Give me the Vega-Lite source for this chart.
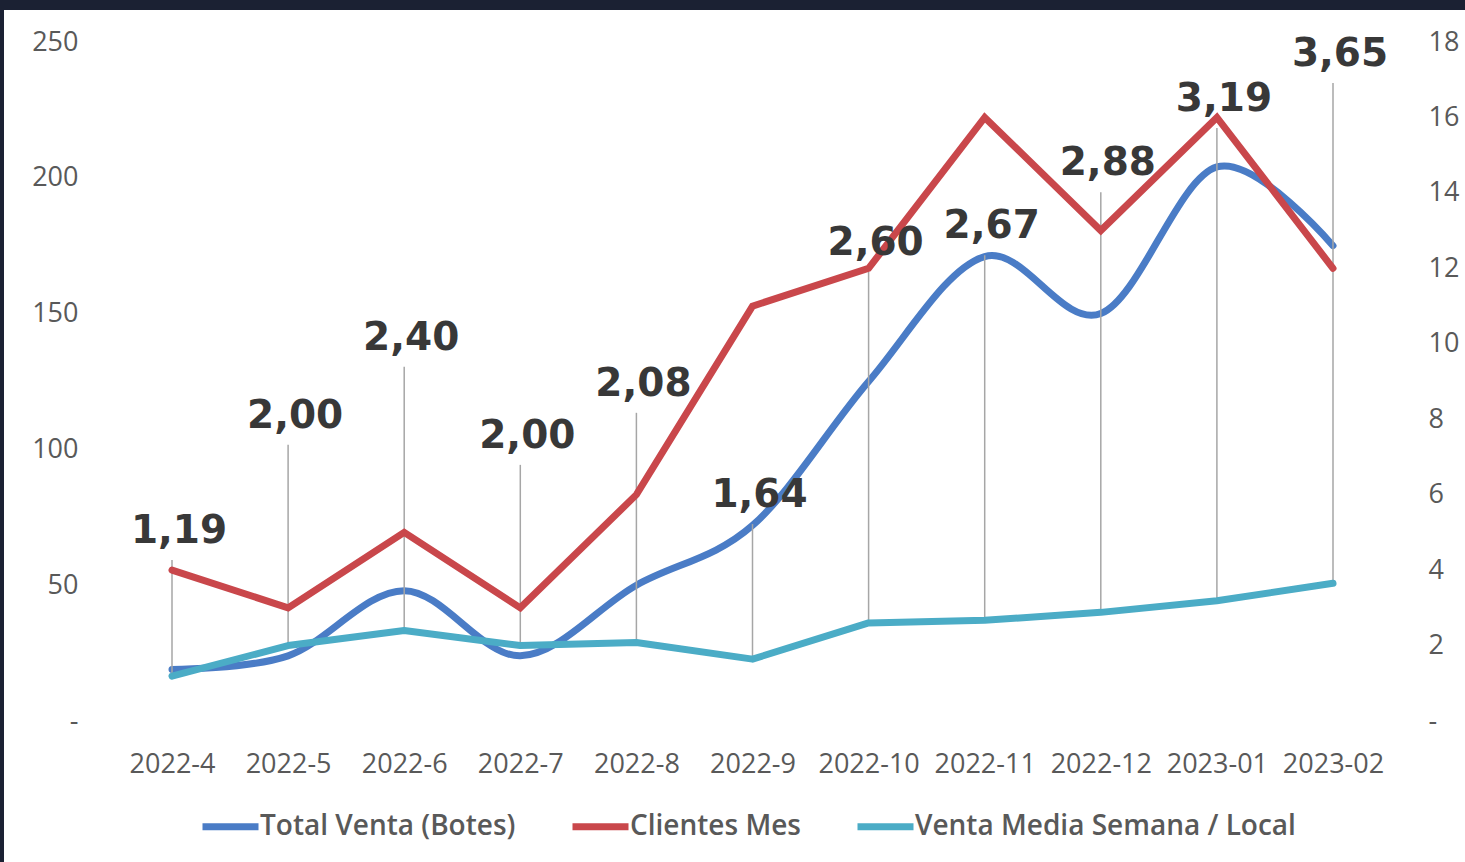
{
  "$schema": "https://vega.github.io/schema/vega-lite/v6.json",
  "width": 1461,
  "height": 852,
  "autosize": "none",
  "padding": {"left": 4, "top": 10, "right": 0, "bottom": 0},
  "background": "#1b2133",
  "config": {
    "view": {"fill": "#ffffff", "stroke": null},
    "locale": {"number": {"decimal": ",", "thousands": ".", "grouping": [3], "currency": ["", " €"]}},
    "axis": {
      "labelFont": "Open Sans",
      "labelFontSize": 27,
      "labelColor": "#595959",
      "domain": false,
      "ticks": false,
      "tickSize": 0,
      "grid": false,
      "title": null
    }
  },
  "data": {
    "values": [
      {"mes": "2022-4", "total_venta": 19, "clientes": 4, "venta_media": 1.19, "altura_etiqueta": 4.27},
      {"mes": "2022-5", "total_venta": 24, "clientes": 3, "venta_media": 2.0, "altura_etiqueta": 7.32},
      {"mes": "2022-6", "total_venta": 48, "clientes": 5, "venta_media": 2.4, "altura_etiqueta": 9.39},
      {"mes": "2022-7", "total_venta": 24, "clientes": 3, "venta_media": 2.0, "altura_etiqueta": 6.79},
      {"mes": "2022-8", "total_venta": 50, "clientes": 6, "venta_media": 2.08, "altura_etiqueta": 8.17},
      {"mes": "2022-9", "total_venta": 72, "clientes": 11, "venta_media": 1.64, "altura_etiqueta": 5.22},
      {"mes": "2022-10", "total_venta": 125, "clientes": 12, "venta_media": 2.6, "altura_etiqueta": 11.9},
      {"mes": "2022-11", "total_venta": 171, "clientes": 16, "venta_media": 2.67, "altura_etiqueta": 12.35},
      {"mes": "2022-12", "total_venta": 150, "clientes": 13, "venta_media": 2.88, "altura_etiqueta": 14.02},
      {"mes": "2023-01", "total_venta": 204, "clientes": 16, "venta_media": 3.19, "altura_etiqueta": 15.72},
      {"mes": "2023-02", "total_venta": 175, "clientes": 12, "venta_media": 3.65, "altura_etiqueta": 16.91}
    ]
  },
  "layer": [
    {
      "mark": {"type": "line", "interpolate": "cardinal", "tension": 0, "strokeWidth": 7, "strokeCap": "round", "strokeJoin": "round"},
      "encoding": {
        "x": {
          "field": "mes", "type": "ordinal", "sort": null,
          "scale": {"type": "point", "range": [168, 1329], "padding": 0},
          "axis": {"offset": -141, "labelPadding": 30, "labelAngle": 0, "title": null}
        },
        "y": {
          "field": "total_venta", "type": "quantitative",
          "scale": {"domain": [0, 250], "range": [711, 32], "nice": false, "zero": true},
          "axis": {"orient": "left", "offset": -110, "labelPadding": 36, "values": [0, 50, 100, 150, 200, 250], "labelExpr": "datum.value === 0 ? '-' : datum.label", "title": null}
        },
        "color": {
          "datum": "Total Venta (Botes)", "type": "nominal",
          "scale": {
            "domain": ["Total Venta (Botes)", "Clientes Mes", "Venta Media Semana / Local"],
            "range": ["#4a7cc6", "#c9474b", "#4bacc6"]
          },
          "legend": {
            "orient": "none", "legendX": 195, "legendY": 785, "direction": "horizontal",
            "symbolType": "stroke", "symbolSize": 3136, "symbolStrokeWidth": 7,
            "labelFont": "Open Sans", "labelFontSize": 28, "labelFontWeight": 600, "labelColor": "#595959",
            "labelOffset": -2, "labelLimit": 800, "columnPadding": 42, "title": null, "padding": 0
          }
        }
      }
    },
    {
      "layer": [
        {
          "mark": {"type": "rule", "color": "#a6a6a6", "strokeWidth": 1.5},
          "encoding": {
            "x": {"field": "mes", "type": "ordinal", "sort": null},
            "y": {
              "field": "venta_media", "type": "quantitative",
              "scale": {"domain": [0, 18], "range": [711, 32], "nice": false},
              "axis": {"orient": "right", "offset": -74, "labelPadding": 37, "values": [0, 2, 4, 6, 8, 10, 12, 14, 16, 18], "labelExpr": "datum.value === 0 ? '-' : datum.label", "title": null}
            },
            "y2": {"field": "altura_etiqueta"}
          }
        },
        {
          "mark": {"type": "line", "strokeWidth": 7, "strokeCap": "round", "strokeJoin": "miter"},
          "encoding": {
            "x": {"field": "mes", "type": "ordinal", "sort": null},
            "y": {"field": "clientes", "type": "quantitative"},
            "color": {"datum": "Clientes Mes", "type": "nominal"}
          }
        },
        {
          "mark": {"type": "line", "strokeWidth": 7, "strokeCap": "round", "strokeJoin": "round"},
          "encoding": {
            "x": {"field": "mes", "type": "ordinal", "sort": null},
            "y": {"field": "venta_media", "type": "quantitative"},
            "color": {"datum": "Venta Media Semana / Local", "type": "nominal"}
          }
        },
        {
          "mark": {"type": "text", "font": "DejaVu Sans", "fontWeight": "bold", "fontSize": 39, "dy": -17, "dx": 7, "baseline": "alphabetic", "align": "center", "color": "#383838"},
          "encoding": {
            "x": {"field": "mes", "type": "ordinal", "sort": null},
            "y": {"field": "altura_etiqueta", "type": "quantitative"},
            "text": {"field": "venta_media", "type": "quantitative", "format": ".2f"}
          }
        }
      ]
    }
  ],
  "resolve": {"scale": {"y": "independent"}}
}
